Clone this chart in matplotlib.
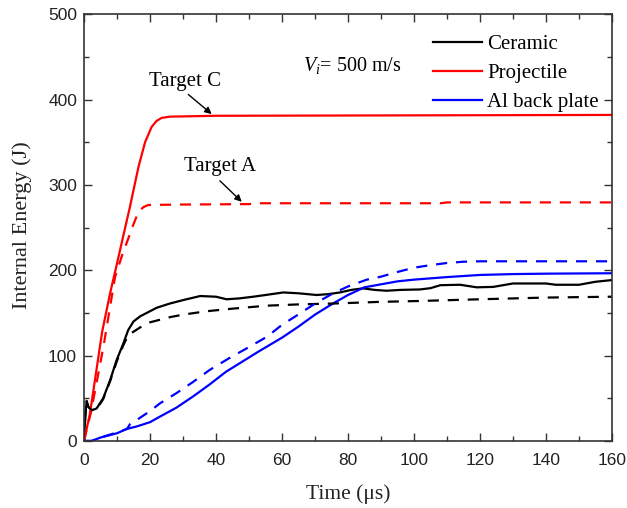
import numpy as np
import matplotlib
matplotlib.use("Agg")
import matplotlib.pyplot as plt
from matplotlib.ticker import MultipleLocator

plt.rcParams['mathtext.fontset'] = 'custom'
plt.rcParams['mathtext.rm'] = 'Liberation Serif'
plt.rcParams['mathtext.it'] = 'Liberation Serif:italic'

# ---- data ----
# Target C (solid)
ceramic_c_t = [0, 0.4, 0.8, 1.3, 2.3, 3.8, 5.8, 7.9, 9.9, 11.9, 13.4, 15, 17, 19, 22, 26, 30, 35.2, 40, 43.2, 47,
               51.3, 55, 60.4, 65, 70.5, 74, 77.6, 81, 84.6, 88, 91.7, 96, 101.8, 105, 108, 114, 119, 124, 130, 135,
               140, 143, 150, 155, 160]
ceramic_c_e = [0, 30, 47, 40, 36, 38, 50, 71, 95, 114, 130, 140, 146, 150, 156, 161, 165, 169.8, 169, 166, 167,
               169, 171, 174, 173, 171, 172, 174, 177, 178.8, 177, 176, 177, 177.5, 179, 182.5, 183, 180, 180.5, 184.5,
               184.5, 184.5, 183, 183, 186.5, 188.5]

proj_c_t = [0, 1.8, 3.3, 4.8, 5.5, 7.9, 10, 12, 13.9, 16.5, 18.5, 20.5, 22, 23.5, 26, 40, 100, 160]
proj_c_e = [0, 32, 71, 110, 128, 173, 208, 242, 274, 321, 350, 368, 375, 378.5, 380, 381, 381.5, 382]

al_c_t = [0, 2.3, 5, 10, 12.9, 16, 20, 23, 28, 33, 38, 43, 48, 53, 60, 65, 70, 75, 80, 85, 90, 95, 100, 110,
          120, 130, 140, 160]
al_c_e = [0, 0, 4, 9, 14, 17, 22, 28.5, 39, 52, 66, 81, 93, 105, 121, 134, 148, 160, 171, 180, 183.5, 187, 189,
          192, 194.5, 195.5, 196, 196.5]

# Target A (dashed)
ceramic_a_t = [0, 0.4, 0.8, 1.3, 2.3, 3.8, 5.8, 7.9, 9.9, 11.9, 13.4, 15, 17, 20, 26, 30, 37.2, 45, 55.4, 65,
               75.5, 90, 101.8, 120, 140, 160]
ceramic_a_e = [0, 30, 46, 40, 36, 37, 49, 70, 93, 112, 124, 128, 133, 139, 145, 148, 152, 155, 158.5, 160,
               161, 163, 164, 166, 168, 169]

proj_a_t = [0, 2, 4, 6, 9.4, 11.5, 13.4, 15, 16.5, 18, 19.5, 30, 50, 52, 100, 108, 110, 160]
proj_a_e = [0, 32, 72, 113, 192, 217, 237, 254, 268.5, 274, 276.5, 277, 277.5, 278.5, 278.5, 278.5, 279.5, 279.5]

al_a_t = [0, 2.3, 5, 10, 13, 14, 16, 20, 23, 28, 33, 38, 44, 50, 55.4, 60, 65.5, 70, 75.5, 80, 85.7, 90, 95,
          100, 105, 110, 115, 120, 160]
al_a_e = [0, 0, 4, 10, 14, 20, 24.6, 35, 44, 56, 69, 83, 97, 110, 122, 136, 149.5, 161, 173, 181, 189, 192.5,
          198, 203, 206, 208.5, 210, 210.5, 210.5]

labels = ['Ceramic', 'Projectile', 'Al back plate']
colors = ['black', 'red', 'blue']

fig = plt.figure(figsize=(6.27, 5.08), dpi=100)
ax = fig.add_axes([0.134, 0.132, 0.842, 0.840])

lw = 1.6
for t, e, c, lab in [(ceramic_c_t, ceramic_c_e, colors[0], labels[0]),
                     (proj_c_t, proj_c_e, colors[1], labels[1]),
                     (al_c_t, al_c_e, colors[2], labels[2])]:
    ax.plot(t, e, color=c, lw=lw, label=lab)
for t, e, c in [(ceramic_a_t, ceramic_a_e, colors[0]),
                (proj_a_t, proj_a_e, colors[1]),
                (al_a_t, al_a_e, colors[2])]:
    ax.plot(t, e, color=c, lw=lw, linestyle=(0, (5, 4)))

ax.set_xlim(0, 160)
ax.set_ylim(0, 500)
ax.xaxis.set_major_locator(MultipleLocator(20))
ax.xaxis.set_minor_locator(MultipleLocator(10))
ax.yaxis.set_major_locator(MultipleLocator(100))
ax.yaxis.set_minor_locator(MultipleLocator(50))
ax.tick_params(which='both', direction='in', top=True, right=True, width=1.0, color='#333333')
ax.tick_params(which='major', length=6)
ax.tick_params(which='minor', length=3.5)
ax.tick_params(axis='x', which='major', pad=8.5)
ax.tick_params(axis='y', which='major', pad=5)
for lab in ax.get_xticklabels() + ax.get_yticklabels():
    lab.set_fontfamily('Liberation Sans')
    lab.set_fontsize(12.5)
    lab.set_color('#222222')
for s in ax.spines.values():
    s.set_linewidth(1.2)
    s.set_color('#333333')

ax.set_xlabel('Time (\u03bcs)', family='Liberation Serif', fontsize=15.5, color='#222222', va='center')
ax.set_ylabel('Internal Energy (J)', family='Liberation Serif', fontsize=16, color='#222222', va='center')
ax.xaxis.set_label_coords(0.5, -0.124)
ax.yaxis.set_label_coords(-0.117, 0.506)

leg = ax.legend(loc='upper left', bbox_to_anchor=(0.661, 0.952), frameon=False,
                prop={'family': 'Liberation Serif', 'size': 15}, handlelength=2.35,
                handletextpad=0.25, labelspacing=0.45, borderpad=0, borderaxespad=0)
for h in leg.get_lines():
    h.set_linewidth(1.6)

ax.text(66.4, 440, r'$V_i$= 500 m/s', family='Liberation Serif', fontsize=14.5, va='center', ha='left')

ax.text(30.6, 421, 'Target C', ha='center', va='center', family='Liberation Serif', fontsize=15)
ax.annotate('', xy=(38.7, 383), xytext=(31.6, 406),
            arrowprops=dict(arrowstyle='-|>', color='black', lw=1.0, mutation_scale=10,
                            shrinkA=0, shrinkB=0))
ax.text(41.2, 321, 'Target A', ha='center', va='center', family='Liberation Serif', fontsize=15)
ax.annotate('', xy=(47.8, 280.2), xytext=(41.2, 304.8),
            arrowprops=dict(arrowstyle='-|>', color='black', lw=1.0, mutation_scale=10,
                            shrinkA=0, shrinkB=0))

fig.savefig('out.png', dpi=100)
